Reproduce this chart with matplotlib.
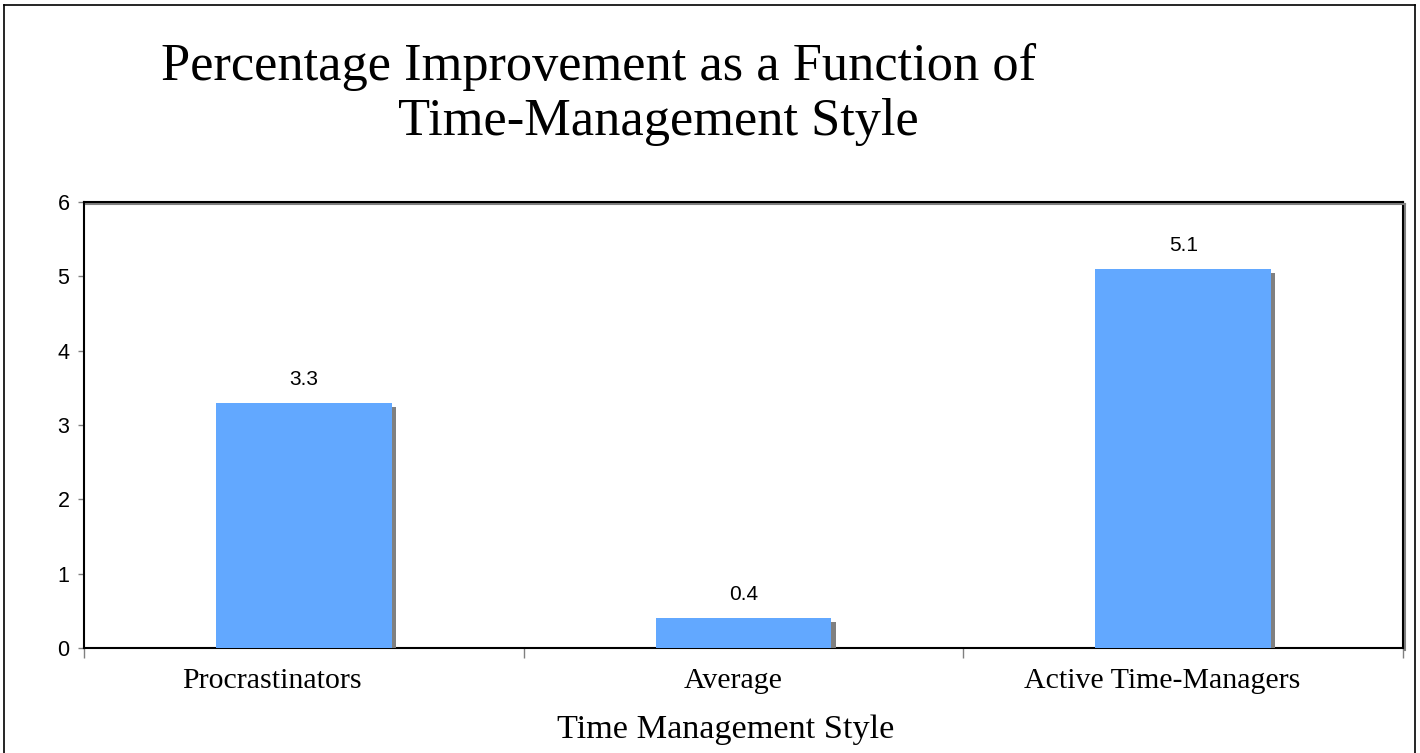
import matplotlib
matplotlib.use("Agg")
import matplotlib.pyplot as plt
import matplotlib.patheffects as pe
import matplotlib.transforms as mtransforms

categories = ["Procrastinators", "Average", "Active Time-Managers"]
values = [3.3, 0.4, 5.1]
value_labels = ["3.3", "0.4", "5.1"]
yticks = [0, 1, 2, 3, 4, 5, 6]
title_line1 = "Percentage Improvement as a Function of"
title_line2 = "Time-Management Style"
xlabel = "Time Management Style"

W, H = 1420, 753
fig = plt.figure(figsize=(W / 100, H / 100), dpi=100)

# outer frame (no bottom line)
for xs, ys in [([4, 4], [753, 5]), ([4, 1415], [5, 5]), ([1415, 1415], [5, 753])]:
    fig.add_artist(plt.Line2D([v / W for v in xs], [1 - v / H for v in ys],
                              transform=fig.transFigure, color="black", lw=1.2))

left, right, top, bottom = 84, 1403, 202, 648
ax = fig.add_axes([left / W, 1 - bottom / H, (right - left) / W, (bottom - top) / H])

x = list(range(len(categories)))
bars = ax.bar(x, values, width=0.4, color="#62A8FF", edgecolor="none", zorder=3)
for b in bars:
    b.set_path_effects([pe.SimplePatchShadow(offset=(3, -3), shadow_rgbFace="#808080", alpha=1.0), pe.Normal()])

for xi, v, lab in zip(x, values, value_labels):
    ax.annotate(lab, (xi, v), xytext=(0, 10), textcoords="offset points", ha="center", va="bottom",
                fontsize=15, family="Liberation Sans")

ax.set_xlim(-0.5, len(categories) - 0.5)
ax.set_ylim(0, 6)
ax.set_yticks(yticks)
ax.set_yticklabels([str(t) for t in yticks], family="Liberation Sans", fontsize=15.5)
ax.tick_params(axis="y", direction="out", length=4, width=1, color="#808080", pad=6.5)

ax.set_xticks([i - 0.5 for i in range(len(categories) + 1)])
ax.set_xticklabels([])
ax.tick_params(axis="x", direction="out", length=7, width=1, color="#808080")

# category labels (slightly left of bar centres, as in the reference)
label_shift_px = [-32, -10, -21]
base = mtransforms.blended_transform_factory(ax.transData, ax.transAxes)
for xi, cat, dx in zip(x, categories, label_shift_px):
    tr = mtransforms.offset_copy(base, fig=fig, x=dx, y=-40, units="dots")
    ax.text(xi, 0, cat, transform=tr, ha="center", va="baseline",
            family="Liberation Serif", fontsize=21.5, clip_on=False)

for s in ax.spines.values():
    s.set_linewidth(1.5)
    s.set_color("black")
for side in ("right", "top"):
    ax.spines[side].set_path_effects([pe.SimpleLineShadow(offset=(1.5, -1.5), shadow_color="#808080", alpha=1.0), pe.Normal()])

fig.text(599 / W, 1 - 80 / H, title_line1, ha="center", va="baseline", family="Liberation Serif", fontsize=37.7)
fig.text(658 / W, 1 - 135 / H, title_line2, ha="center", va="baseline", family="Liberation Serif", fontsize=37.7)
fig.text(726 / W, 1 - 738 / H, xlabel, ha="center", va="baseline", family="Liberation Serif", fontsize=24.7)

fig.savefig("out.png", dpi=100)
